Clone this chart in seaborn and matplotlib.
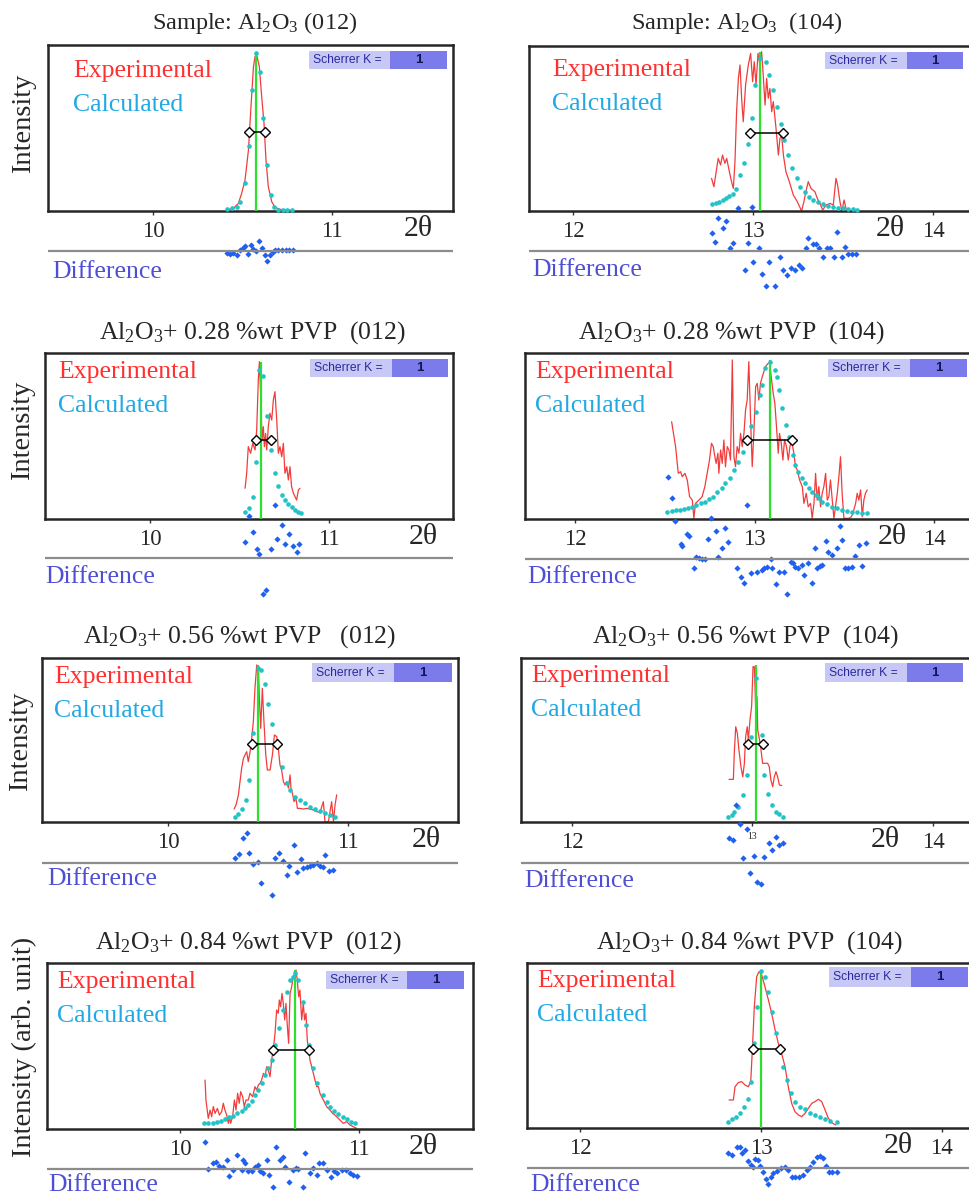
import numpy as np
import pandas as pd
import seaborn as sns
import matplotlib.pyplot as plt
from matplotlib.patches import Rectangle

# XRD single-peak Scherrer fits, Al2O3 with PVP: (012) left column, (104) right column
# intensity in % of panel height, difference in arb. units

# --- Al2O3 (012)
p1_exp_x = [10.412, 10.449, 10.477, 10.495, 10.514, 10.533, 10.546, 10.561, 10.570, 10.579, 10.594, 10.607, 10.620, 10.631, 10.644, 10.663, 10.682, 10.709, 10.747, 10.784]
p1_exp_y = [0.6, 1.6, 4.6, 10.6, 18.7, 36.7, 60.8, 86.9, 93.0, 94.0, 86.9, 68.9, 52.8, 30.7, 14.7, 5.6, 2.2, 1.0, 0.6, 0.2]
p1_calc_x = [10.412, 10.440, 10.468, 10.486, 10.514, 10.538, 10.551, 10.575, 10.598, 10.616, 10.635, 10.658, 10.676, 10.700, 10.724, 10.746, 10.774]
p1_calc_y = [1.0, 1.6, 2.6, 5.6, 16.7, 39.4, 72.9, 95.0, 83.9, 55.8, 27.7, 9.6, 2.6, 0.5, 0.5, 0.5, 0.5]
p1_diff_x = [10.412, 10.430, 10.449, 10.467, 10.486, 10.501, 10.514, 10.533, 10.546, 10.561, 10.575, 10.594, 10.607, 10.626, 10.635, 10.654, 10.669, 10.682, 10.700, 10.719, 10.743, 10.762, 10.780]
p1_diff_y = [-1.7, -2.7, -1.7, -4.3, 0.7, 3.3, 4.7, -2.7, 5.7, 2.3, 0.0, 10.0, 3.3, -3.7, -10.0, -4.3, -1.0, 0.7, 1.3, 1.3, 0.7, 1.3, 0.7]

# --- Al2O3 (104)
p2_exp_x = [12.770, 12.783, 12.807, 12.820, 12.831, 12.844, 12.854, 12.869, 12.881, 12.891, 12.900, 12.909, 12.919, 12.928, 12.937, 12.946, 12.959, 12.974, 12.987, 12.998,
            13.007, 13.017, 13.028, 13.039, 13.048, 13.057, 13.067, 13.076, 13.085, 13.094, 13.104, 13.113, 13.128, 13.141, 13.150, 13.159, 13.169, 13.183, 13.202, 13.224,
            13.246, 13.270, 13.283, 13.294, 13.307, 13.322, 13.344, 13.357, 13.372, 13.387, 13.406, 13.428, 13.446, 13.461, 13.470, 13.483, 13.494, 13.506, 13.520, 13.576]
p2_exp_y = [19.8, 14.7, 31.9, 27.9, 33.9, 28.9, 31.9, 23.8, 17.8, 13.7, 29.9, 60.2, 80.4, 88.5, 68.3, 54.1, 76.4, 88.5, 95.5, 78.4,
            90.5, 76.4, 95.5, 88.5, 96.6, 82.4, 64.2, 80.4, 68.3, 74.3, 60.2, 66.3, 50.1, 33.9, 44.0, 46.1, 33.9, 23.8, 17.8, 9.7,
            5.7, 0.0, 5.7, 11.7, 17.8, 13.7, 11.7, 7.7, 4.6, 0.6, 3.6, 4.6, 3.6, 19.8, 15.8, 5.7, 0.0, 6.7, 0.0, 0.0]
p2_calc_x = [12.770, 12.794, 12.813, 12.831, 12.850, 12.869, 12.887, 12.906, 12.928, 12.952, 12.970, 12.993, 13.011, 13.039, 13.072, 13.089, 13.109, 13.131,
             13.154, 13.172, 13.196, 13.219, 13.243, 13.261, 13.289, 13.313, 13.335, 13.363, 13.391, 13.419, 13.446, 13.474, 13.502, 13.530, 13.557, 13.576]
p2_calc_y = [4.0, 5.1, 5.7, 6.5, 7.7, 9.1, 10.5, 13.3, 21.8, 28.9, 40.4, 56.6, 76.4, 92.9, 90.5, 82.4, 73.3, 63.2,
             52.5, 43.0, 33.9, 25.9, 19.8, 14.7, 11.7, 8.7, 6.7, 5.7, 4.0, 3.2, 2.6, 2.0, 1.6, 1.2, 1.0, 0.6]
p2_diff_x = [12.915, 12.993, 12.807, 12.850, 12.831, 12.770, 12.789, 12.891, 12.872, 12.970, 13.035, 13.002, 13.091, 13.150, 12.956, 13.048, 13.072, 13.122, 13.169, 13.191,
             13.209, 13.233, 13.256, 13.270, 13.294, 13.307, 13.335, 13.350, 13.369, 13.391, 13.409, 13.428, 13.450, 13.469, 13.493, 13.511, 13.530, 13.548, 13.572]
p2_diff_y = [43.3, 44.3, 32.7, 30.0, 22.7, 17.7, 9.3, 7.7, 2.7, 7.7, 2.7, -10.7, -10.7, -5.7, -19.0, -23.3, -34.7, -34.7, -19.0, -24.0,
             -17.3, -19.0, -14.0, -17.3, 2.7, 12.7, 6.7, 6.7, 2.7, -5.7, 2.7, 2.7, -5.7, 19.3, -5.7, 4.3, -3.3, -3.3, -3.3]

# --- + 0.28 %wt PVP (012)
p3_exp_x = [10.531, 10.540, 10.549, 10.562, 10.574, 10.587, 10.596, 10.605, 10.611, 10.618, 10.626, 10.633, 10.639, 10.646, 10.652, 10.661, 10.670, 10.680,
            10.689, 10.698, 10.708, 10.717, 10.726, 10.736, 10.745, 10.754, 10.764, 10.773, 10.782, 10.791, 10.801, 10.810, 10.819, 10.829, 10.838]
p3_exp_y = [18.5, 27.5, 43.6, 39.6, 45.6, 41.6, 53.6, 83.7, 94.8, 75.7, 47.6, 55.6, 43.6, 51.6, 41.6, 55.6, 63.7, 59.6,
            71.7, 76.7, 59.6, 39.6, 43.6, 37.5, 45.6, 27.5, 31.5, 23.5, 31.5, 19.5, 15.5, 13.5, 11.4, 17.5, 18.5]
p3_calc_x = [10.531, 10.555, 10.574, 10.592, 10.611, 10.633, 10.652, 10.674, 10.698, 10.717, 10.736, 10.754, 10.773, 10.791, 10.810, 10.829, 10.842]
p3_calc_y = [4.4, 6.4, 13.5, 34.5, 89.9, 86.3, 62.2, 41.8, 27.9, 20.1, 14.5, 11.4, 9.0, 7.0, 5.4, 4.4, 3.8]
p3_diff_x = [10.698, 10.555, 10.574, 10.531, 10.596, 10.611, 10.674, 10.711, 10.736, 10.754, 10.778, 10.797, 10.819, 10.834, 10.633, 10.646]
p3_diff_y = [52.7, 42.3, 25.7, 16.0, 9.0, 4.3, 9.0, 19.0, 32.7, 14.0, 24.3, 12.3, 5.7, 14.0, -35.7, -32.3]

# --- + 0.28 %wt PVP (104)
p4_exp_x = [12.538, 12.560, 12.575, 12.588, 12.597, 12.612, 12.625, 12.638, 12.653, 12.662, 12.671, 12.690, 12.708, 12.723, 12.736, 12.749, 12.760, 12.770, 12.779, 12.786,
            12.796, 12.801, 12.811, 12.820, 12.829, 12.838, 12.848, 12.857, 12.866, 12.876, 12.885, 12.894, 12.903, 12.913, 12.922, 12.931, 12.941, 12.950, 12.959, 12.968,
            12.978, 12.987, 12.996, 13.006, 13.015, 13.024, 13.033, 13.043, 13.061, 13.076, 13.084, 13.095, 13.104, 13.113, 13.121, 13.132, 13.139, 13.149, 13.158, 13.167,
            13.178, 13.188, 13.197, 13.206, 13.219, 13.228, 13.238, 13.251, 13.266, 13.275, 13.288, 13.299, 13.312, 13.321, 13.331, 13.340, 13.349, 13.358, 13.368, 13.377,
            13.386, 13.396, 13.405, 13.414, 13.423, 13.433, 13.442, 13.451, 13.461, 13.470, 13.479, 13.488, 13.498, 13.507, 13.526, 13.540, 13.548, 13.563, 13.572, 13.581,
            13.591, 13.600, 13.609, 13.618, 13.628]
p4_exp_y = [58.6, 43.6, 27.5, 28.5, 25.5, 27.5, 23.5, 13.5, 11.4, 0.4, 9.4, 11.4, 13.5, 19.5, 27.5, 35.5, 45.6, 43.6, 37.5, 33.5,
            39.6, 27.5, 41.6, 33.5, 47.6, 31.5, 43.6, 41.6, 35.5, 95.8, 37.5, 31.5, 43.6, 39.6, 51.6, 43.6, 51.6, 65.7, 71.7, 94.8,
            59.6, 31.5, 51.6, 79.7, 81.7, 71.7, 81.7, 85.7, 91.8, 93.8, 93.8, 83.7, 75.7, 69.7, 57.6, 39.6, 51.6, 45.6, 35.5, 47.6,
            43.6, 35.5, 43.6, 47.6, 39.6, 31.5, 29.5, 23.5, 19.5, 9.4, 15.5, 7.4, 9.4, 0.4, 9.4, 27.5, 11.4, 19.5, 7.4, 15.5,
            19.5, 27.5, 11.4, 13.5, 23.5, 11.4, 0.4, 7.4, 15.5, 25.5, 37.5, 15.5, 0.4, 0.4, 0.4, 1.4, 3.4, 9.4, 15.5, 11.4,
            17.5, 1.4, 11.4, 15.5, 17.5]
p4_calc_x = [12.513, 12.538, 12.560, 12.582, 12.606, 12.630, 12.653, 12.675, 12.699, 12.723, 12.746, 12.768, 12.792, 12.816, 12.838, 12.861, 12.885,
             12.909, 12.935, 12.954, 12.978, 13.006, 13.028, 13.043, 13.058, 13.085, 13.113, 13.126, 13.139, 13.154, 13.176, 13.191, 13.214, 13.228,
             13.243, 13.262, 13.280, 13.303, 13.321, 13.340, 13.358, 13.377, 13.405, 13.433, 13.461, 13.488, 13.516, 13.544, 13.572, 13.600, 13.628]
p4_calc_y = [4.4, 4.8, 5.2, 5.6, 6.0, 6.8, 7.4, 8.4, 9.4, 10.4, 12.0, 13.5, 16.1, 18.5, 21.5, 24.5, 29.5,
             34.5, 40.6, 48.2, 56.2, 64.7, 74.7, 80.7, 90.8, 94.8, 89.8, 85.7, 77.7, 66.7, 56.6, 49.6, 38.6, 32.5,
             28.5, 24.5, 21.5, 18.5, 16.5, 14.5, 12.4, 10.4, 8.8, 7.4, 6.4, 5.4, 4.8, 4.4, 4.0, 3.6, 3.6]
p4_diff_x = [12.519, 12.541, 12.556, 12.588, 12.597, 12.625, 12.634, 12.662, 12.675, 12.690, 12.708, 12.723, 12.742, 12.755, 12.783, 12.798, 12.820, 12.835, 12.853, 12.903,
             12.922, 12.941, 12.959, 12.978, 13.015, 13.039, 13.052, 13.071, 13.089, 13.098, 13.121, 13.139, 13.163, 13.182, 13.201, 13.214, 13.228, 13.243, 13.266, 13.275,
             13.299, 13.318, 13.336, 13.349, 13.362, 13.377, 13.399, 13.410, 13.433, 13.461, 13.474, 13.485, 13.503, 13.522, 13.544, 13.559, 13.581, 13.600, 13.622]
p4_diff_y = [82.3, 60.7, 38.0, 14.7, 13.3, 24.7, 23.3, -9.3, 2.3, 0.7, 0.0, 0.0, 19.7, 40.7, 28.0, 2.3, 11.3, 30.7, 17.3, -9.3,
             -17.7, -24.3, 54.0, -14.3, -12.7, -11.0, -9.3, -7.7, 0.0, -9.3, -25.3, -12.7, -12.7, -35.3, -2.7, -4.3, -7.7, -9.3, -6.0, -16.0,
             -4.3, -24.3, 11.3, -9.3, -6.7, -6.0, 18.0, 7.3, 4.0, 10.7, 33.3, 19.0, -8.7, -8.7, -7.7, 3.3, 14.0, -6.7, 15.7]

# --- + 0.56 %wt PVP (012)
p5_exp_x = [10.367, 10.378, 10.391, 10.400, 10.409, 10.419, 10.428, 10.437, 10.446, 10.456, 10.465, 10.474, 10.483, 10.493, 10.502, 10.507, 10.515, 10.524,
            10.533, 10.543, 10.552, 10.567, 10.580, 10.591, 10.604, 10.613, 10.622, 10.631, 10.641, 10.650, 10.659, 10.669, 10.678, 10.683, 10.693, 10.700,
            10.711, 10.719, 10.733, 10.752, 10.770, 10.789, 10.807, 10.826, 10.844, 10.863, 10.872, 10.891, 10.900, 10.909, 10.919, 10.928, 10.937]
p5_exp_y = [7.9, 10.4, 16.5, 24.6, 32.7, 38.8, 40.9, 42.9, 36.8, 42.9, 51.0, 61.2, 81.5, 95.8, 93.7, 77.5, 57.1, 81.5,
            61.2, 40.9, 31.7, 31.7, 40.9, 53.1, 52.0, 44.9, 34.8, 31.7, 24.6, 22.6, 24.6, 20.7, 28.7, 20.7, 16.5, 12.4,
            14.4, 8.3, 8.3, 7.9, 8.3, 7.9, 7.3, 6.3, 5.9, 12.4, 0.2, 0.2, 6.3, 12.4, 0.2, 10.4, 16.5]
p5_calc_x = [10.372, 10.391, 10.409, 10.433, 10.452, 10.474, 10.502, 10.517, 10.539, 10.557, 10.576, 10.607, 10.631, 10.659, 10.678, 10.706,
             10.733, 10.761, 10.789, 10.817, 10.844, 10.872, 10.900, 10.928]
p5_calc_y = [3.3, 4.7, 7.9, 13.4, 25.6, 54.1, 93.7, 92.7, 84.0, 71.8, 59.6, 47.4, 33.7, 23.6, 19.5, 15.5,
             13.4, 11.4, 9.4, 7.9, 6.7, 5.3, 4.3, 3.3]
p5_diff_x = [10.372, 10.396, 10.415, 10.437, 10.452, 10.474, 10.502, 10.515, 10.576, 10.594, 10.619, 10.637, 10.659, 10.674,
             10.700, 10.715, 10.737, 10.752, 10.774, 10.789, 10.804, 10.826, 10.844, 10.859, 10.872, 10.896, 10.919]
p5_diff_y = [5.3, 8.7, 24.7, 29.7, 9.7, -1.3, 0.7, -19.7, -32.0, 5.3, 9.7, 2.0, -12.0, -2.7,
             18.0, -9.3, 4.0, -4.7, -3.7, -2.7, -2.0, -0.3, -2.7, -4.0, 8.0, -8.0, -7.0]

# --- + 0.56 %wt PVP (104)
p6_exp_x = [12.870, 12.894, 12.899, 12.907, 12.916, 12.925, 12.936, 12.946, 12.955, 12.962, 12.971, 12.977, 12.986, 12.995, 13.003, 13.010, 13.014,
            13.019, 13.025, 13.029, 13.036, 13.045, 13.056, 13.069, 13.084, 13.093, 13.102, 13.112, 13.121, 13.130, 13.139, 13.149, 13.162]
p6_exp_y = [26.0, 26.0, 41.9, 58.1, 54.1, 43.9, 33.7, 27.6, 35.8, 52.0, 58.1, 50.0, 62.2, 70.3, 94.7, 94.7, 82.5,
            64.2, 76.4, 56.1, 52.0, 45.9, 35.8, 35.8, 35.8, 33.7, 25.6, 21.5, 27.6, 30.7, 27.6, 22.6, 22.2]
p6_calc_x = [12.866, 12.885, 12.899, 12.922, 12.946, 12.971, 12.990, 13.018, 13.051, 13.066, 13.088, 13.106, 13.128, 13.147, 13.171]
p6_calc_y = [3.3, 4.3, 5.9, 8.9, 16.5, 28.7, 52.0, 87.6, 53.1, 28.7, 17.1, 10.4, 6.3, 4.9, 3.3]
p6_diff_x = [12.907, 12.931, 12.971, 12.872, 12.894, 12.946, 13.010, 13.066, 13.091, 13.106, 13.128, 13.147, 13.167, 12.986, 13.023, 13.047]
p6_diff_y = [58.0, 39.0, 33.7, 24.7, 23.0, 4.7, 7.0, 5.7, 20.3, 13.0, 25.7, 18.0, 20.3, -9.7, -18.7, -21.0]

# --- + 0.84 %wt PVP (012)
p7_exp_x = [10.140, 10.145, 10.158, 10.168, 10.177, 10.186, 10.196, 10.209, 10.220, 10.233, 10.242, 10.251, 10.261, 10.270, 10.276, 10.283, 10.294, 10.304,
            10.313, 10.322, 10.331, 10.339, 10.350, 10.359, 10.369, 10.382, 10.391, 10.406, 10.419, 10.428, 10.438, 10.447, 10.456, 10.466, 10.475, 10.484,
            10.493, 10.503, 10.512, 10.521, 10.531, 10.540, 10.549, 10.555, 10.562, 10.570, 10.577, 10.585, 10.592, 10.600, 10.607, 10.615, 10.624, 10.633,
            10.642, 10.648, 10.655, 10.663, 10.670, 10.680, 10.689, 10.696, 10.704, 10.711, 10.719, 10.726, 10.736, 10.745, 10.754, 10.764, 10.773, 10.782,
            10.791, 10.801, 10.810, 10.819, 10.829, 10.838, 10.853, 10.866, 10.875, 10.894, 10.912, 10.931, 10.950, 10.968, 10.987]
p7_exp_y = [29.5, 17.5, 6.4, 11.4, 7.4, 13.5, 9.4, 12.4, 8.4, 10.4, 15.5, 11.4, 8.4, 3.4, 7.4, 3.4, 7.4, 17.5,
            11.4, 21.5, 15.5, 22.5, 19.5, 13.5, 17.5, 17.5, 21.5, 19.5, 25.5, 23.5, 26.5, 27.5, 29.5, 33.5, 31.5, 37.5,
            35.5, 31.5, 41.6, 47.6, 57.6, 71.7, 69.7, 77.7, 73.7, 81.7, 75.7, 65.7, 75.7, 61.6, 51.6, 81.7, 85.7, 91.8,
            93.8, 95.8, 89.8, 79.7, 83.7, 65.7, 75.7, 65.7, 69.7, 53.6, 47.6, 41.6, 37.5, 33.5, 29.5, 25.5, 25.5, 21.5,
            19.5, 17.5, 15.5, 13.5, 12.4, 11.4, 9.4, 8.4, 7.4, 5.4, 3.4, 4.4, 2.4, 1.4, 0.4]
p7_calc_x = [10.134, 10.158, 10.182, 10.205, 10.227, 10.251, 10.276, 10.298, 10.320, 10.345, 10.363, 10.382, 10.400, 10.419, 10.438, 10.456, 10.475, 10.493, 10.512, 10.531, 10.555,
             10.577, 10.600, 10.615, 10.629, 10.644, 10.661, 10.685, 10.704, 10.723, 10.745, 10.767, 10.801, 10.819, 10.838, 10.860, 10.885, 10.909, 10.931, 10.953, 10.978]
p7_calc_y = [3.4, 3.4, 3.8, 4.4, 5.0, 5.8, 7.0, 8.0, 9.4, 11.0, 12.4, 14.5, 17.1, 20.5, 23.5, 27.5, 32.5, 36.5, 41.6, 50.6, 60.6,
             71.7, 82.7, 89.8, 91.8, 94.2, 89.8, 76.7, 62.7, 50.6, 36.5, 27.5, 20.5, 16.5, 13.5, 11.0, 9.0, 7.4, 5.8, 4.4, 3.4]
p7_diff_x = [10.140, 10.158, 10.186, 10.201, 10.220, 10.238, 10.261, 10.276, 10.298, 10.317, 10.345, 10.354, 10.363, 10.382, 10.400, 10.419, 10.438, 10.447, 10.462, 10.484, 10.499, 10.521, 10.536,
             10.559, 10.574, 10.587, 10.611, 10.633, 10.648, 10.661, 10.685, 10.698, 10.726, 10.741, 10.764, 10.778, 10.801, 10.819, 10.842, 10.860, 10.879, 10.903, 10.927, 10.950, 10.968, 10.987]
p7_diff_y = [27.3, -0.3, 6.3, 7.3, 3.0, 2.3, 9.0, -7.0, -1.0, 14.0, -1.0, 9.0, 5.7, -1.7, -1.7, 2.3, 4.0, -1.7, -4.3, 9.0, -6.0, -17.7, 22.3,
             9.0, 12.3, 2.3, -12.7, -1.0, 0.7, -0.3, -17.7, 15.7, -4.3, 0.7, -6.0, 5.7, 6.3, -1.0, -7.7, -1.7, -4.3, -1.0, -1.0, -4.3, -6.0, -7.0]

# --- + 0.84 %wt PVP (104)
p8_exp_x = [12.823, 12.847, 12.856, 12.874, 12.893, 12.911, 12.930, 12.943, 12.952, 12.963, 12.976, 12.989, 13.004, 13.022, 13.041, 13.059, 13.078, 13.096,
            13.114, 13.133, 13.151, 13.170, 13.188, 13.207, 13.225, 13.244, 13.262, 13.281, 13.299, 13.318, 13.336, 13.355, 13.373, 13.392, 13.414]
p8_exp_y = [17.0, 17.0, 25.0, 27.5, 28.1, 26.1, 25.0, 28.1, 47.3, 73.5, 91.7, 94.7, 92.7, 85.6, 77.6, 69.5, 59.4, 51.3,
            45.2, 37.2, 25.0, 14.9, 9.9, 7.9, 6.9, 8.9, 11.9, 14.9, 16.0, 17.4, 16.0, 10.9, 5.9, 3.2, 1.8]
p8_calc_x = [12.819, 12.841, 12.860, 12.884, 12.908, 12.926, 12.943, 12.959, 12.976, 13.000, 13.022, 13.041, 13.059, 13.081,
             13.100, 13.124, 13.142, 13.166, 13.188, 13.216, 13.244, 13.271, 13.299, 13.327, 13.355, 13.382, 13.419]
p8_calc_y = [3.8, 5.3, 6.5, 9.3, 12.9, 17.4, 28.1, 51.3, 73.5, 95.3, 91.7, 82.6, 70.5, 57.4,
             48.3, 37.2, 29.1, 21.0, 16.0, 12.9, 11.3, 9.3, 7.9, 6.5, 5.3, 4.2, 3.6]
p8_diff_x = [12.819, 12.841, 12.865, 12.884, 12.897, 12.911, 12.930, 12.943, 12.954, 12.967, 12.982, 12.994, 13.013, 13.026, 13.041, 13.055, 13.068, 13.087,
             13.111, 13.133, 13.151, 13.170, 13.188, 13.211, 13.235, 13.253, 13.271, 13.290, 13.308, 13.327, 13.345, 13.358, 13.377, 13.395, 13.419]
p8_diff_y = [14.7, 13.0, 20.7, 20.7, 15.3, 18.0, 7.3, 3.0, 1.3, 8.7, 8.0, 2.0, -3.7, -11.3, -16.0, -8.7, -5.3, -2.7,
             -0.3, 1.3, -2.0, -8.7, -9.3, -9.3, -7.0, -2.0, 1.3, 6.3, 11.3, 12.0, 9.7, 2.0, -3.7, -3.7, -3.7]

# peak position, its height, and FWHM bar (all 8 panels)
peak_pos = [10.575, 13.039, 10.618, 13.085, 10.502, 13.019, 10.644, 13.000]
peak_top = [95.0, 96.6, 94.8, 95.8, 95.8, 95.9, 95.8, 94.7]
fwhm_lo = [10.538, 12.983, 10.592, 12.959, 10.469, 12.977, 10.521, 12.958]
fwhm_hi = [10.626, 13.169, 10.674, 13.206, 10.604, 13.060, 10.723, 13.105]
half_max = [47.4, 47.5, 47.6, 47.6, 47.4, 47.6, 47.6, 47.7]

titles = [r"Sample: Al$_2$O$_3$ (012)", r"Sample: Al$_2$O$_3$  (104)",
          r"Al$_2$O$_3$+ 0.28 %wt PVP  (012)", r"Al$_2$O$_3$+ 0.28 %wt PVP  (104)",
          r"Al$_2$O$_3$+ 0.56 %wt PVP   (012)", r"Al$_2$O$_3$+ 0.56 %wt PVP  (104)",
          r"Al$_2$O$_3$+ 0.84 %wt PVP  (012)", r"Al$_2$O$_3$+ 0.84 %wt PVP  (104)"]
tick_vals = [[10, 11], [12, 13, 14]] * 4
tick_text = [['10', '11'], ['12', '13', '14']] * 4

exp_x = [p1_exp_x, p2_exp_x, p3_exp_x, p4_exp_x, p5_exp_x, p6_exp_x, p7_exp_x, p8_exp_x]
exp_y = [p1_exp_y, p2_exp_y, p3_exp_y, p4_exp_y, p5_exp_y, p6_exp_y, p7_exp_y, p8_exp_y]
calc_x = [p1_calc_x, p2_calc_x, p3_calc_x, p4_calc_x, p5_calc_x, p6_calc_x, p7_calc_x, p8_calc_x]
calc_y = [p1_calc_y, p2_calc_y, p3_calc_y, p4_calc_y, p5_calc_y, p6_calc_y, p7_calc_y, p8_calc_y]
diff_x = [p1_diff_x, p2_diff_x, p3_diff_x, p4_diff_x, p5_diff_x, p6_diff_x, p7_diff_x, p8_diff_x]
diff_y = [p1_diff_y, p2_diff_y, p3_diff_y, p4_diff_y, p5_diff_y, p6_diff_y, p7_diff_y, p8_diff_y]

# layout, in pixels of the 969x1203 picture
W, H = 969, 1203
boxes = [(48, 45, 453, 211), (529, 46, 971, 211), (45, 353, 453, 519), (525, 353, 971, 519),
         (42, 658, 458, 822), (521, 658, 971, 822), (47, 963, 473, 1129), (527, 963, 971, 1128)]
baselines = [251, 251, 558, 559, 863, 863, 1169, 1168]
xlims = [(9.413, 11.676), (11.756, 14.211), (9.413, 11.693), (11.721, 14.206),
         (9.300, 11.611), (11.717, 14.211), (9.257, 11.637), (11.704, 14.163)]
title_pos = [(255, 23), (737, 23), (252, 333), (731, 333), (240, 637), (745, 637), (248, 943), (749, 943)]
exp_lbl = [(73, 71), (552, 70), (58, 372), (535, 372), (54, 677), (531, 676), (57, 982), (537, 981)]
diff_lbl = [(52, 272), (532, 270), (45, 577), (527, 577), (47, 879), (524, 881), (48, 1185), (530, 1185)]
scherrer = [(309, 390, 447, 51, 69), (825, 907, 963, 52, 69), (310, 392, 448, 359, 377), (828, 910, 967, 359, 377),
            (312, 394, 452, 663, 682), (825, 907, 963, 663, 682), (326, 407, 464, 971, 989), (829, 911, 968, 967, 987)]
two_theta = [(418, 229), (890, 229), (423, 537), (892, 537), (426, 840), (885, 840), (423, 1147), (898, 1146)]
ylab = [(24, 123, 'Intensity'), (23, 430, 'Intensity'), (21, 741, 'Intensity'), (24, 1047, 'Intensity (arb. unit)')]

RED = '#f23c3c'
CYAN = '#22c3c6'
BLUE = '#1f60f0'
GREEN = '#2ee02e'

sns.set_style("white")
plt.rcParams['font.family'] = ['Liberation Serif', 'DejaVu Serif']
plt.rcParams['mathtext.fontset'] = 'custom'
plt.rcParams['mathtext.rm'] = 'Liberation Serif'
plt.rcParams['mathtext.it'] = 'Liberation Serif:italic'

fig = plt.figure(figsize=(W / 100, H / 100), dpi=100)


def frac(x0, y0, x1, y1):
    return [x0 / W, 1 - y1 / H, (x1 - x0) / W, (y1 - y0) / H]


def ftxt(x, y, s, **kw):
    fig.text(x / W, 1 - y / H, s, **kw)


for i in range(8):
    L, T, R, B = boxes[i]
    ax = fig.add_axes(frac(L, T, R, B))
    ax.set_facecolor('white')
    sns.lineplot(x=exp_x[i], y=exp_y[i], estimator=None, sort=False, color=RED, lw=0.9, ax=ax, zorder=2)
    ax.vlines(peak_pos[i], 0, peak_top[i], color=GREEN, lw=1.6, zorder=3)
    sns.scatterplot(x=calc_x[i], y=calc_y[i], color=CYAN, s=11, linewidth=0, ax=ax, zorder=4, clip_on=False)
    ax.plot([fwhm_lo[i], fwhm_hi[i]], [half_max[i], half_max[i]], color='black', lw=1.1,
            marker='D', ms=5, mfc='white', mec='black', mew=1, zorder=5)
    ax.set_xlim(*xlims[i])
    ax.set_ylim(0, 100)
    ax.set_xticks(tick_vals[i], tick_text[i])
    ax.tick_params(axis='x', bottom=True, direction='out', length=3, width=1, pad=4,
                   labelsize=16.5, color='#333333')
    ax.set_yticks([])
    ax.set_xlabel('')
    ax.set_ylabel('')
    for sp in ax.spines.values():
        sp.set_visible(True)
        sp.set_color('#262626')
        sp.set_linewidth(1.8)
    if i == 5:
        ax.get_xticklabels()[1].set_fontsize(7)

    # difference strip under the box
    base = baselines[i]
    dax = fig.add_axes(frac(L, base - 90, R, base + 50))
    dax.set_xlim(*xlims[i])
    dax.set_ylim(-50, 90)
    dax.axis('off')
    dax.axhline(0, color='#8c8c8c', lw=1.6)
    sns.scatterplot(x=diff_x[i], y=diff_y[i], marker='D', s=10, color=BLUE, linewidth=0, ax=dax, clip_on=False)

    # texts
    tx, ty = title_pos[i]
    ftxt(tx, ty, titles[i], ha='center', va='center', fontsize=18.5 if i > 1 else 17.5)
    ex, ey = exp_lbl[i]
    ftxt(ex, ey, 'Experimental', ha='left', va='center', fontsize=18.5, color='#ff3030')
    ftxt(ex, ey + 34, 'Calculated', ha='left', va='center', fontsize=18.5, color='#22a9e4')
    dx, dy = diff_lbl[i]
    ftxt(dx, dy, 'Difference', ha='left', va='center', fontsize=18.5, color='#4f4fd6')
    zx, zy = two_theta[i]
    ftxt(zx, zy, '2θ', ha='center', va='center', fontsize=21.5)

    sx0, sx1, sx2, sy0, sy1 = scherrer[i]
    fig.add_artist(Rectangle((sx0 / W, 1 - sy1 / H), (sx1 - sx0) / W, (sy1 - sy0) / H,
                             transform=fig.transFigure, facecolor='#c8c8f6', edgecolor='none'))
    fig.add_artist(Rectangle((sx1 / W, 1 - sy1 / H), (sx2 - sx1) / W, (sy1 - sy0) / H,
                             transform=fig.transFigure, facecolor='#7b7bec', edgecolor='none'))
    ftxt(sx0 + 4, (sy0 + sy1) / 2, 'Scherrer K =', ha='left', va='center', fontsize=8.7,
         family='Liberation Sans', color='#2a2aa0')
    ftxt((sx1 + sx2) / 2, (sy0 + sy1) / 2, '1', ha='center', va='center', fontsize=9.5,
         family='Liberation Sans', weight='bold', color='#141450')

for x, y, s in ylab:
    ftxt(x, y, s, ha='center', va='center', rotation=90, fontsize=20.5)

fig.savefig('out.png', dpi=100, facecolor='white')
